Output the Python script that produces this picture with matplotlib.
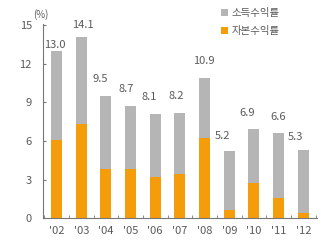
import matplotlib
matplotlib.use("Agg")
import matplotlib.pyplot as plt
import numpy as np

plt.rcParams['font.family'] = ['Noto Sans CJK KR', 'DejaVu Sans']

years = ["'02", "'03", "'04", "'05", "'06", "'07", "'08", "'09", "'10", "'11", "'12"]
totals = [13.0, 14.1, 9.5, 8.7, 8.1, 8.2, 10.9, 5.2, 6.9, 6.6, 5.3]
capital = [6.1, 7.3, 3.8, 3.8, 3.2, 3.4, 6.2, 0.6, 2.7, 1.6, 0.4]
income = [t - c for t, c in zip(totals, capital)]

# label nudges in pixels (dx, dy above bar top), as placed in the original
label_dx = [-2, 2, -6, -4, -6, -4, -1, -7, -7, 0, -8]
label_dy = [1, 7, 12, 12, 12, 12, 12, 10, 11, 11, 8]

gray = '#b5b5b5'
orange = '#f59c0b'
txt = '#5a5a5a'

fig = plt.figure(figsize=(3.28, 2.49), dpi=100)
ax = fig.add_axes([0.131, 0.124, 0.835, 0.78])

x = np.arange(len(years))
ax.bar(x, capital, width=0.45, color=orange, label='자본수익률')
ax.bar(x, income, width=0.45, bottom=capital, color=gray, label='소득수익률')

for xi, t, dx, dy in zip(x, totals, label_dx, label_dy):
    ax.annotate(f'{t:.1f}', (xi, t), xytext=(dx * 0.72, dy * 0.72), textcoords='offset points',
                ha='center', va='bottom', fontsize=8, color=txt)

ax.set_xlim(-0.55, 10.55)
ax.set_ylim(0, 15.1)
ax.set_yticks([0, 3, 6, 9, 12, 15])
ax.set_xticks(x)
ax.set_xticklabels(years)
ax.set_xticks(np.arange(-0.5, 10.6, 1), minor=True)
ax.tick_params(axis='x', which='major', length=0, labelsize=8, labelcolor=txt, pad=6)
ax.tick_params(axis='x', which='minor', length=2, direction='in', color='#777777')
ax.tick_params(axis='y', length=2, direction='in', labelsize=8, labelcolor=txt, color='#777777', pad=8)
for s in ['top', 'right']:
    ax.spines[s].set_visible(False)
for s in ['left', 'bottom']:
    ax.spines[s].set_color('#777777')
    ax.spines[s].set_linewidth(0.8)

ax.text(-0.62, 15.4, '(%)', fontsize=7, color=txt, ha='center', va='bottom')

h, l = ax.get_legend_handles_labels()
fig.legend(h[::-1], l[::-1], loc='upper left', bbox_to_anchor=(0.645, 1.005), frameon=False,
           fontsize=7.5, labelcolor=txt, handlelength=0.7, handleheight=0.7,
           handletextpad=0.3, labelspacing=0.75)

fig.savefig('out.png', dpi=100)
